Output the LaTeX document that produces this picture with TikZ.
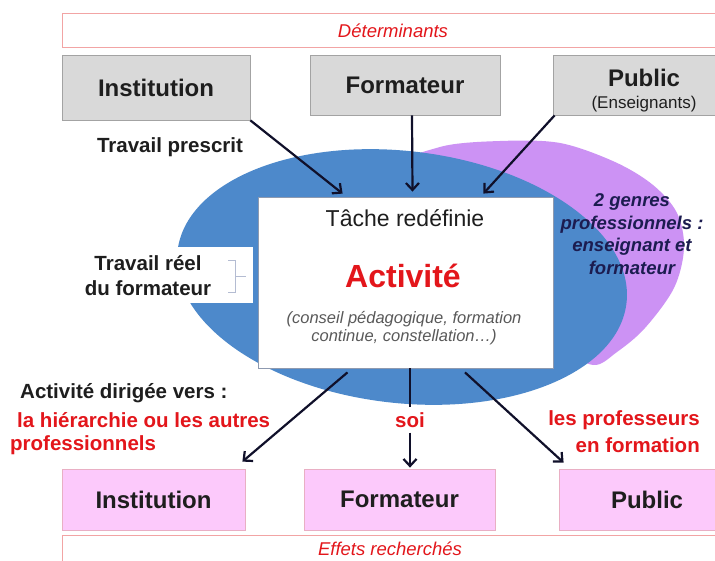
\documentclass[tikz,border=0pt]{standalone}
\usepackage{fontspec}
\setmainfont{Liberation Sans}
\usetikzlibrary{arrows.meta,calc}
\definecolor{detdraw}{HTML}{F2A4A4}
\definecolor{grayfill}{HTML}{D9D9D9}
\definecolor{graydraw}{HTML}{A3A3A3}
\definecolor{pinkfill}{HTML}{FCC9FB}
\definecolor{pinkdraw}{HTML}{E9AFC4}
\definecolor{bluee}{HTML}{4D89CB}
\definecolor{purp}{HTML}{CC92F4}
\definecolor{redc}{HTML}{E3161B}
\definecolor{navy}{HTML}{1C1C50}
\definecolor{arrc}{HTML}{10102A}
\definecolor{bracec}{HTML}{B4BCD2}
\definecolor{taskdraw}{HTML}{8E9AB0}
\definecolor{txtc}{HTML}{1E1E1E}
\newcommand\fsz[2]{\fontsize{#1}{#2}\selectfont}
\begin{document}
\begin{tikzpicture}[x=1pt,y=-1pt,
  detbox/.style={draw=detdraw, fill=white, line width=0.8pt, inner sep=0pt},
  dettxt/.style={font=\itshape\fsz{18.5}{22}, text=redc, inner sep=0pt},
  gbox/.style={draw=graydraw, fill=grayfill, line width=0.8pt, font=\bfseries\fsz{24}{28}, text=txtc, inner sep=0pt},
  pbox/.style={draw=pinkdraw, fill=pinkfill, line width=0.8pt, font=\bfseries\fsz{24}{28}, text=txtc, inner sep=0pt},
  lbl/.style={font=\bfseries\fsz{20.5}{25}, text=txtc, inner sep=0pt},
  lblred/.style={font=\bfseries\fsz{20.5}{25}, text=redc, inner sep=0pt},
  arr/.style={draw=arrc, line width=2.2pt, -{Straight Barb[length=7pt,width=13pt]}},
  plain/.style={draw=arrc, line width=2.2pt}]
\clip (0,0) rectangle (715,561);
\fill[white] (0,0) rectangle (715,561);

% background shapes
\fill[purp] plot[smooth cycle, tension=0.55] coordinates {(400,170) (440,147) (500,141) (560,143) (615,162) (653,185) (677,213) (684,248) (674,288) (645,328) (617,352) (593,365) (560,345) (520,300) (450,230)};
\fill[bluee, rotate around={-6.6:(402,277)}] (402,277) ellipse [x radius=226pt, y radius=126pt];

% top band
\node[detbox, minimum width=662pt, minimum height=34pt] (det) at (393,30) {};
\node[dettxt] (dett) at (393,31) {Déterminants};

% top boxes
\node[gbox, minimum width=188pt, minimum height=65pt] (inst) at (156,87.5) {Institution};
\node[gbox, minimum width=190pt, minimum height=60pt] (form) at (405,85) {Formateur};
\node[gbox, minimum width=182pt, minimum height=60pt] (pub) at (644,85) {};
\node[font=\bfseries\fsz{24}{28}, text=txtc, inner sep=0pt] (pubt) at (644,78) {Public};
\node[font=\fsz{17}{20}, text=txtc, inner sep=0pt] (pube) at (644,104) {(Enseignants)};

\node[lbl] (tp) at (170,147) {Travail prescrit};

% travail reel label area
\node[fill=white, minimum width=173pt, minimum height=56pt, inner sep=0pt] (trw) at (166.5,275) {};
\node[lbl] (tr1) at (148,263) {Travail réel};
\node[lbl] (tr2) at (148,288) {du formateur};
\draw[bracec, line width=0.8pt] (228,260) -- (235,260) -- (235,292) -- (228,292);
\draw[bracec, line width=0.8pt] (235,276) -- (246,276);

% task box
\node[draw=taskdraw, fill=white, line width=0.8pt, minimum width=295pt, minimum height=171pt, inner sep=0pt] (task) at (405.5,282.5) {};
\node[font=\fsz{23}{26}, text=txtc, inner sep=0pt] (tache) at (405,218) {Tâche redéfinie};
\node[font=\bfseries\fsz{32}{36}, text=redc, inner sep=0pt] (act) at (403,276) {Activité};
\node[font=\itshape\fsz{16.5}{18.5}, text=black!65, align=center, inner sep=0pt] (cons) at (404,328) {(conseil pédagogique, formation\\continue, constellation…)};

% genres
\node[font=\bfseries\itshape\fsz{18.5}{22.5}, text=navy, align=center, inner sep=0pt] (genres) at (632,234) {2 genres\\professionnels :\\enseignant et\\formateur};

% top arrows
\draw[arr] (inst.south east) -- ($(task.north west)+(85,-3)$);
\draw[arr] ([xshift=7pt]form.south) -- ([xshift=7pt,yshift=5pt]task.north);
\draw[arr] ([xshift=2pt]pub.south west) -- ($(task.north east)+(-70,-3)$);

% bottom labels
\node[lbl, anchor=west] (adv) at (20,393) {Activité dirigée vers :};
\node[lblred, anchor=west] (hier) at (17,420) {la hiérarchie ou les autres};
\node[lblred, anchor=west] (pro) at (10,445) {professionnels};
\node[lblred, anchor=east] (lp) at (700,420) {les professeurs};
\node[lblred, anchor=east] (enf) at (700,445) {en formation};
\node[lblred, inner sep=5pt] (soi) at (410,420) {soi};

% bottom boxes
\node[pbox, minimum width=183pt, minimum height=61pt] (binst) at (153.5,499.5) {Institution};
\node[pbox, minimum width=191pt, minimum height=61pt] (bform) at (399.5,499.5) {Formateur};
\node[pbox, minimum width=176pt, minimum height=61pt] (bpub) at (647,499.5) {Public};
\node[detbox, minimum width=662pt, minimum height=40pt] (eff) at (393,555) {};
\node[dettxt] (efft) at (390,549) {Effets recherchés};

% bottom arrows
\draw[arr] ([xshift=-58pt,yshift=-4pt]task.south) -- ($(binst.north east)+(-3,-7)$);
\draw[plain] ([xshift=4.5pt]task.south) -- (soi.north);
\draw[arr] (soi.south) -- ($(soi.south |- bform.north)+(0,-1)$);
\draw[arr] ([xshift=59.5pt,yshift=-4pt]task.south) -- ($(bpub.north west)+(5,-6)$);
\end{tikzpicture}
\end{document}
